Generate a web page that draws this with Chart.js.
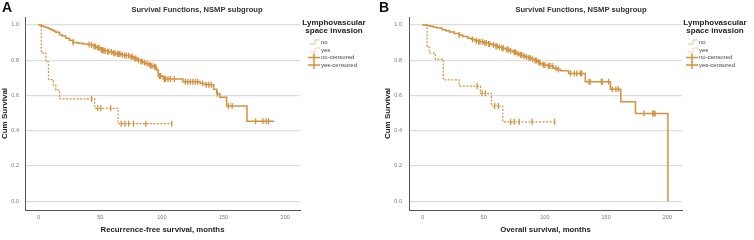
<!DOCTYPE html>
<html>
<head>
<meta charset="utf-8">
<script src="https://cdn.jsdelivr.net/npm/chart.js@4.4.0/dist/chart.umd.min.js"></script>
<style>
  body { margin: 0; background: #fff; }
  .panel { position: absolute; top: 0; width: 377px; height: 240px; }
</style>
</head>
<body>
<div class="panel" style="left:0"><canvas id="chartA" width="377" height="240"></canvas></div>
<div class="panel" style="left:377px"><canvas id="chartB" width="377" height="240"></canvas></div>
<script>
const orange = '#d4913e';
const fontFam = '"Liberation Sans", Arial, sans-serif';

const xTicks = [0, 50, 100, 150, 200];
const yTicks = [0, 0.2, 0.4, 0.6, 0.8, 1.0];
const legendLabels = ['no', 'yes', 'no-censored', 'yes-censored'];

// Panel A - recurrence-free survival (event time, survival after event)
const rfsNoTimes = [2, 4, 6, 8, 10, 12, 14, 17, 19, 22, 25, 28, 32, 36, 40, 43, 45, 47, 50, 53, 56, 60, 63, 67, 70, 74, 77, 80, 83, 85, 87, 89, 91, 93, 95.7, 97, 101, 117, 131, 135, 142, 144.5, 147, 152.5, 169];
const rfsNoSurv = [0.995, 0.99, 0.985, 0.978, 0.972, 0.965, 0.958, 0.945, 0.937, 0.925, 0.913, 0.90, 0.896, 0.892, 0.889, 0.886, 0.878, 0.871, 0.858, 0.853, 0.848, 0.84, 0.835, 0.83, 0.826, 0.82, 0.81, 0.80, 0.792, 0.786, 0.78, 0.775, 0.769, 0.763, 0.744, 0.71, 0.693, 0.678, 0.668, 0.66, 0.635, 0.61, 0.59, 0.54, 0.453];
const rfsNoEnd = 191;
const rfsNoCensored = [28, 41, 43, 45, 46, 48, 49, 51, 52, 53, 54, 56, 57, 59, 61, 62, 64, 65, 66, 68, 70, 71, 73, 75, 76, 78, 79, 81, 83, 84, 86, 88, 90, 91, 92, 94, 95, 98, 99, 102, 103, 105, 107, 110, 119, 121, 123, 125, 127, 129, 133, 136, 138, 140, 145, 154, 157, 176, 182, 184.5, 186.5];

const rfsYesTimes = [2.2, 6, 8, 12, 14, 17, 45.5, 64.5];
const rfsYesSurv = [0.84, 0.79, 0.69, 0.66, 0.63, 0.58, 0.527, 0.44];
const rfsYesEnd = 108;
const rfsYesCensored = [43, 48, 50.5, 58.5, 67, 70, 73, 77, 87, 108];

// Panel B - overall survival
const osNoTimes = [3, 6, 9, 12, 16, 19, 22, 26, 30, 33, 37, 40, 43, 46, 50, 54, 57, 60, 62, 65, 68, 71, 74, 77, 79, 82, 84, 87, 89.5, 92, 94, 96, 97.7, 102, 107, 110, 112.7, 119.4, 133, 153.5, 162, 174, 200.5];
const osNoSurv = [0.997, 0.993, 0.987, 0.982, 0.973, 0.967, 0.96, 0.952, 0.943, 0.935, 0.925, 0.918, 0.91, 0.905, 0.898, 0.892, 0.886, 0.879, 0.873, 0.867, 0.86, 0.853, 0.845, 0.837, 0.83, 0.824, 0.818, 0.812, 0.805, 0.798, 0.79, 0.782, 0.773, 0.767, 0.754, 0.747, 0.74, 0.725, 0.678, 0.635, 0.564, 0.498, 0];
const osNoEnd = 200.5;
const osNoCensored = [30, 41, 44, 46, 47, 49, 51, 52, 54, 55, 58, 60, 61, 63, 65, 66, 69, 70, 72, 75, 76, 78, 80, 81, 83, 85, 87, 88, 90, 92, 93, 95, 96, 99, 100, 103, 104, 106, 109, 111, 121, 124, 126, 129, 130, 136, 137, 146, 147, 152, 155, 158, 160, 181, 188, 189, 190];

const osYesTimes = [3.8, 5.5, 10.5, 17, 30, 47.3, 56.3, 65.6];
const osYesSurv = [0.875, 0.84, 0.806, 0.688, 0.653, 0.612, 0.54, 0.45];
const osYesEnd = 108;
const osYesCensored = [44.6, 48.7, 51.4, 59, 62, 72, 75, 79, 89.5, 108];

// turn event lists into a step curve
function stepPoints(times, surv, end) {
    const pts = [{ x: 0, y: 1 }];
    let prev = 1;
    times.forEach((t, i) => {
        pts.push({ x: t, y: prev });
        pts.push({ x: t, y: surv[i] });
        prev = surv[i];
    });
    if (end > times[times.length - 1]) pts.push({ x: end, y: prev });
    return pts;
}

function censorPoints(times, surv, cens) {
    return cens.map(c => {
        let s = 1;
        times.forEach((t, i) => { if (t <= c) s = surv[i]; });
        return { x: c, y: s };
    });
}

const panelPlugin = {
    id: 'panelDeco',
    afterDraw(chart, args, opts) {
        const ctx = chart.ctx;
        ctx.save();
        ctx.fillStyle = '#111';
        ctx.textBaseline = 'middle';
        ctx.textAlign = 'left';
        ctx.font = 'bold 14px ' + fontFam;
        ctx.fillText(opts.letter, 2, 8);

        ctx.textAlign = 'center';
        ctx.fillStyle = '#333';
        ctx.font = 'bold 7.6px ' + fontFam;
        ctx.fillText('Survival Functions, NSMP subgroup', opts.titleX, 10);

        // legend
        ctx.fillStyle = '#222';
        ctx.font = 'bold 8px ' + fontFam;
        ctx.fillText('Lymphovascular', opts.legendX, 23);
        ctx.fillText('space invasion', opts.legendX, 31);

        const rows = [42, 50, 57.5, 65];
        const x0 = opts.itemX - 13;
        ctx.font = '6px ' + fontFam;
        ctx.textAlign = 'left';
        legendLabels.forEach((lab, i) => {
            const y = rows[i];
            ctx.fillStyle = '#444';
            ctx.fillText(lab, opts.itemX, y);
            ctx.beginPath();
            if (i < 2) {
                ctx.strokeStyle = '#e3c094';
                ctx.lineWidth = 1;
                ctx.setLineDash(i === 1 ? [1.5, 1] : []);
                ctx.moveTo(x0 + 2, y + 2);
                ctx.lineTo(x0 + 7, y + 2);
                ctx.lineTo(x0 + 7, y - 2);
                ctx.lineTo(x0 + 12, y - 2);
            } else {
                ctx.strokeStyle = orange;
                ctx.lineWidth = 1.5;
                ctx.setLineDash([]);
                ctx.moveTo(x0, y);
                ctx.lineTo(x0 + 12, y);
                ctx.moveTo(x0 + 6, y - 4);
                ctx.lineTo(x0 + 6, y + 4);
            }
            ctx.stroke();
        });
        ctx.restore();
    }
};

function makeChart(id, p) {
    return new Chart(document.getElementById(id), {
        type: 'scatter',
        data: {
            datasets: [
                {
                    label: 'no',
                    data: stepPoints(p.noTimes, p.noSurv, p.noEnd),
                    showLine: true,
                    borderColor: orange,
                    borderWidth: 1.5,
                    pointRadius: 0
                },
                {
                    label: 'yes',
                    data: stepPoints(p.yesTimes, p.yesSurv, p.yesEnd),
                    showLine: true,
                    borderColor: orange,
                    borderWidth: 1.2,
                    borderDash: [2, 1.5],
                    pointRadius: 0
                },
                {
                    label: 'no-censored',
                    data: censorPoints(p.noTimes, p.noSurv, p.noCens),
                    pointStyle: 'line',
                    pointRotation: 90,
                    pointRadius: 3,
                    borderColor: orange,
                    borderWidth: 1.3
                },
                {
                    label: 'yes-censored',
                    data: censorPoints(p.yesTimes, p.yesSurv, p.yesCens),
                    pointStyle: 'line',
                    pointRotation: 90,
                    pointRadius: 3,
                    borderColor: orange,
                    borderWidth: 1.3
                }
            ]
        },
        options: {
            responsive: false,
            animation: false,
            layout: { padding: { top: 17, right: p.rightPad, left: 0, bottom: 0 } },
            plugins: {
                legend: { display: false },
                tooltip: { enabled: false },
                panelDeco: { letter: p.letter, titleX: p.titleX, legendX: p.legendX, itemX: p.itemX }
            },
            scales: {
                x: {
                    type: 'linear',
                    min: -11,
                    max: 212,
                    afterFit: s => { s.height = 30; },
                    afterBuildTicks: s => { s.ticks = xTicks.map(v => ({ value: v })); },
                    grid: { display: false, drawTicks: false },
                    border: { display: true, color: '#555', width: 1 },
                    ticks: { color: '#777', padding: 4, font: { size: 5.5, family: fontFam } },
                    title: {
                        display: true,
                        text: p.xTitle,
                        color: '#222',
                        padding: { top: 0, bottom: 5.5 },
                        font: { size: 7.8, weight: 'bold', family: fontFam }
                    }
                },
                y: {
                    min: -0.05,
                    max: 1.045,
                    afterFit: s => { s.width = p.yWidth; },
                    afterBuildTicks: s => { s.ticks = yTicks.map(v => ({ value: v })); },
                    grid: { color: '#dddddd', lineWidth: 1.2, drawTicks: false },
                    border: { display: true, color: '#555', width: 1 },
                    ticks: {
                        color: '#777',
                        padding: p.yTickPad,
                        font: { size: 5.5, family: fontFam },
                        callback: v => v.toFixed(1)
                    },
                    title: {
                        display: true,
                        text: 'Cum Survival',
                        color: '#222',
                        padding: { top: p.yTitlePad, bottom: 0 },
                        font: { size: 8, weight: 'bold', family: fontFam }
                    }
                }
            }
        },
        plugins: [panelPlugin]
    });
}

makeChart('chartA', {
    letter: 'A', titleX: 197, legendX: 334, itemX: 321,
    rightPad: 77, yWidth: 25, yTickPad: 6, yTitlePad: 0,
    xTitle: 'Recurrence-free survival, months',
    noTimes: rfsNoTimes, noSurv: rfsNoSurv, noEnd: rfsNoEnd, noCens: rfsNoCensored,
    yesTimes: rfsYesTimes, yesSurv: rfsYesSurv, yesEnd: rfsYesEnd, yesCens: rfsYesCensored
});

makeChart('chartB', {
    letter: 'B', titleX: 204, legendX: 338, itemX: 322,
    rightPad: 72, yWidth: 32, yTickPad: 7, yTitlePad: 6,
    xTitle: 'Overall survival, months',
    noTimes: osNoTimes, noSurv: osNoSurv, noEnd: osNoEnd, noCens: osNoCensored,
    yesTimes: osYesTimes, yesSurv: osYesSurv, yesEnd: osYesEnd, yesCens: osYesCensored
});
</script>
</body>
</html>
